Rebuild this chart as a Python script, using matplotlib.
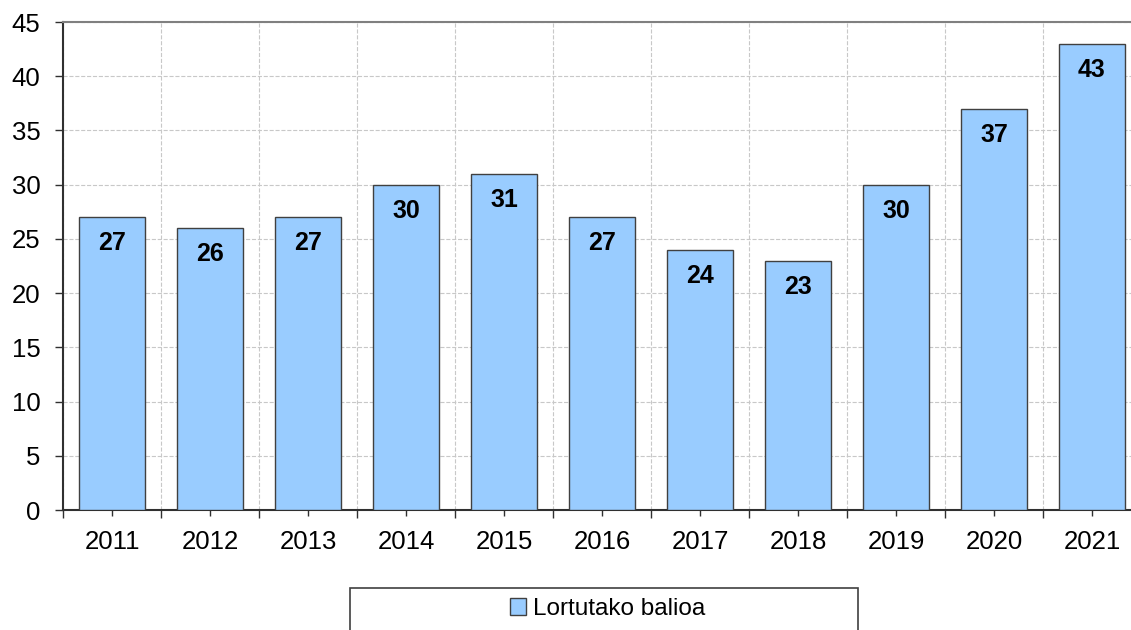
#bar chart of yearly values (Lortutako balioa)
import numpy as np
import matplotlib.pyplot as plt
from matplotlib.patches import Rectangle
from matplotlib.ticker import FixedLocator

plt.rcParams['font.family'] = ['Liberation Sans', 'DejaVu Sans']

years = ['2011', '2012', '2013', '2014', '2015', '2016', '2017', '2018', '2019', '2020', '2021']
values = [27, 26, 27, 30, 31, 27, 24, 23, 30, 37, 43]
series_name = 'Lortutako balioa'

fig = plt.figure(figsize=(11.31, 6.3), dpi=100)
ax = fig.add_axes([63/1131, 120/630, 1078/1131, 488/630])

x = np.arange(len(years))
bars = ax.bar(x, values, width=0.67, color='#99CCFF', edgecolor='#404040',
              linewidth=1.0, label=series_name, zorder=3)

for xi, v in zip(x, values):
    ax.text(xi, v - 2.4, str(v), ha='center', va='center', fontsize=18,
            fontweight='bold', color='black', zorder=4)

ax.set_xlim(-0.5, len(years) - 0.5)
ax.set_ylim(0, 45)
ax.set_yticks(np.arange(0, 46, 5))
ax.tick_params(axis='y', labelsize=18.5, length=5.8, width=1, color='#303030', pad=10.5)

ax.set_xticks(x)
ax.set_xticklabels(years)
ax.xaxis.set_minor_locator(FixedLocator(np.arange(-0.5, len(years), 1)))
ax.tick_params(axis='x', which='major', labelsize=18.5, length=4.3, width=1, color='#303030', pad=10)
ax.tick_params(axis='x', which='minor', length=5.8, width=1, color='#303030')

ax.grid(axis='y', which='major', color='#c8c8c8', linestyle='--', linewidth=0.8, zorder=0)
ax.grid(axis='x', which='minor', color='#c8c8c8', linestyle='--', linewidth=0.8, zorder=0)
ax.grid(axis='x', which='major', visible=False)

ax.spines['top'].set_color('#808080')
ax.spines['top'].set_linewidth(1.5)
ax.spines['right'].set_visible(False)
ax.spines['left'].set_color('#303030')
ax.spines['left'].set_linewidth(1.5)
ax.spines['bottom'].set_color('#303030')
ax.spines['bottom'].set_linewidth(1.5)

# legend box at bottom, cut by the image edge
fig.patches.append(Rectangle((350/1131, -0.05), 508/1131, 42/630 + 0.05,
                             transform=fig.transFigure, fill=False,
                             edgecolor='#404040', linewidth=1.2))
fig.legend(handles=[bars], labels=[series_name], loc='center',
           bbox_to_anchor=(608/1131, 21/630), frameon=False, fontsize=17.5,
           handlelength=0.65, handleheight=0.65, handletextpad=0.3)

plt.savefig('out.png', dpi=100)
